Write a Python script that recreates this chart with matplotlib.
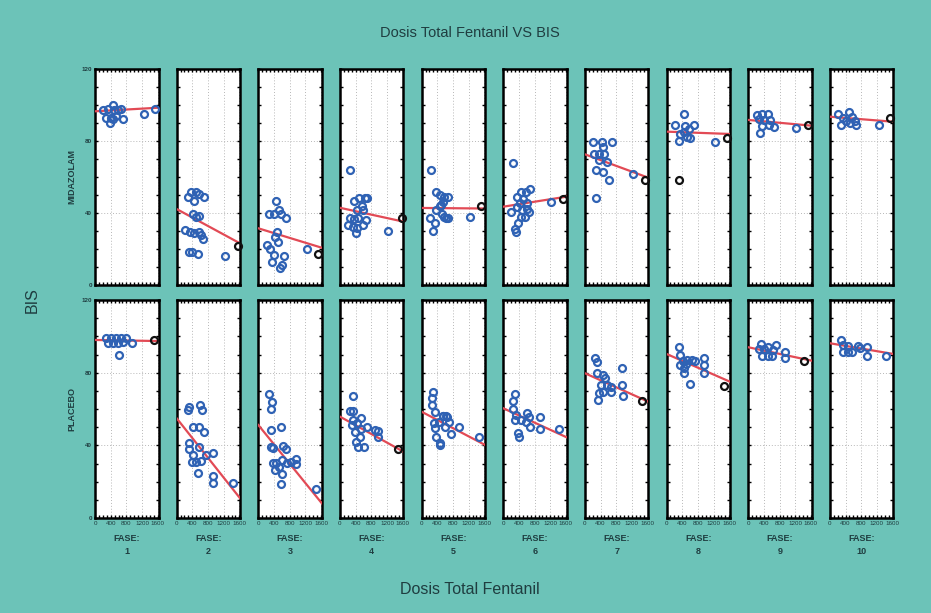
import matplotlib
matplotlib.use("Agg")
import matplotlib.pyplot as plt
import numpy as np

plt.rcParams['font.family'] = ['Liberation Sans', 'DejaVu Sans']

# ---- data ----
fases = ['1', '2', '3', '4', '5', '6', '7', '8', '9', '10']

# MIDAZOLAM: dosis total fentanil (x) vs BIS (y), one list per fase
mid_x = [
    [207, 332, 456, 497, 580, 663, 290, 415, 539, 705, 373, 456, 1243, 1533],
    [281, 366, 494, 579, 706, 451, 408, 494, 579, 221, 340, 451, 562, 621, 664, 306, 391, 536, 1242],
    [463, 278, 396, 530, 589, 699, 480, 421, 505, 210, 295, 396, 337, 648, 615, 564, 1238],
    [255, 357, 494, 638, 698, 553, 425, 596, 255, 357, 468, 664, 213, 340, 443, 579, 408, 1234],
    [246, 356, 475, 584, 541, 457, 373, 525, 203, 627, 330, 287, 668, 500, 584, 668, 1237],
    [238, 339, 465, 574, 675, 506, 422, 354, 607, 187, 490, 607, 658, 465, 549, 380, 296, 321, 1224],
    [198, 430, 688, 232, 370, 490, 456, 370, 559, 284, 456, 627, 284, 1230],
    [438, 228, 481, 691, 565, 337, 438, 607, 312, 523, 1240],
    [217, 359, 498, 274, 398, 565, 359, 523, 664, 299, 1230],
    [210, 337, 489, 574, 405, 506, 632, 295, 675, 1248],
]
mid_y = [
    [97, 98, 100, 97, 97, 98, 93, 93, 94, 92.5, 90, 92, 95, 98],
    [49, 51.4, 51.8, 50.3, 49, 46.6, 39.2, 37.9, 38.3, 30.5, 29.6, 28.7, 29.6, 27.8, 25.5, 18.5, 18.5, 17.2, 16.3],
    [46.6, 39.2, 39.2, 41.6, 39.2, 37.4, 29.6, 26.8, 23.7, 22.2, 20, 16.7, 13, 16.3, 11.1, 9.6, 19.8],
    [63.8, 46.6, 48.5, 48.1, 48.5, 44, 41.6, 41.6, 37, 36.6, 37.4, 36.1, 33.3, 32.4, 31.5, 33.3, 28.7, 30.2],
    [63.9, 51.5, 50, 49, 46.3, 44, 41.7, 39.3, 37, 37, 34.3, 30, 49, 44.4, 38, 37, 38],
    [67.6, 49, 51.9, 51.5, 53.3, 47.8, 45.4, 43.5, 45.4, 40.7, 41.7, 42.2, 40.7, 38, 38, 34.3, 31.1, 29.6, 46.3],
    [79.3, 79.3, 79.3, 72.6, 72.6, 72.6, 76.8, 69.4, 68.2, 63.9, 62.6, 58.3, 48.5, 61.5],
    [94.8, 88.9, 88.5, 88.9, 86.7, 83.7, 84.8, 81.5, 80, 82.4, 79.3],
    [94.4, 94.8, 94.8, 92.2, 91.7, 91.7, 88.5, 88.9, 87.9, 84.3, 87.4],
    [94.8, 93, 96.3, 93.5, 91.1, 89.8, 91.1, 88.9, 88.9, 88.9],
]
# points drawn in black (near the right edge)
mid_dark_x = [[], [1557], [1516], [1574], [1516], [1518], [1522], [1535, 312], [1519], [1535]]
mid_dark_y = [[], [21.8], [17], [37], [44], [47.8], [58.3], [81.9, 58.3], [88.9], [93]]
# linear fit: BIS at dosis 0 and at dosis 1600
mid_fit0 = [96.5, 42.2, 31.5, 42.9, 42.8, 43.5, 72.6, 85.2, 91.7, 93.5]
mid_fit1 = [98.5, 23.1, 20.7, 35.2, 42.5, 49.1, 59.6, 83.9, 88.5, 90.7]

# PLACEBO
pla_x = [
    [291, 415, 540, 664, 789, 332, 457, 581, 706, 938, 606],
    [281, 324, 596, 647, 409, 561, 706, 307, 324, 409, 392, 494, 622, 561, 749, 936, 536, 936, 936, 1428],
    [278, 339, 314, 314, 567, 314, 380, 633, 701, 364, 448, 531, 617, 423, 617, 734, 845, 954, 971, 567, 1460],
    [321, 253, 321, 549, 337, 438, 691, 886, 970, 296, 380, 549, 506, 405, 464, 607, 970],
    [293, 278, 253, 337, 547, 632, 311, 445, 379, 463, 337, 547, 648, 698, 589, 759, 951, 463, 1458],
    [296, 253, 238, 321, 296, 465, 607, 658, 574, 692, 929, 929, 380, 405, 1434],
    [258, 301, 301, 456, 516, 404, 559, 663, 946, 946, 972, 370, 344, 473, 663],
    [312, 337, 422, 523, 650, 734, 961, 354, 438, 506, 455, 961, 944, 590],
    [316, 274, 398, 498, 715, 359, 498, 608, 632, 939, 939],
    [295, 337, 337, 464, 574, 717, 759, 945, 945, 464, 1434],
]
pla_y = [
    [98.9, 98.9, 98.9, 98.9, 98.9, 96.2, 96.2, 96.5, 97, 96.2, 89.7],
    [59.5, 61.3, 62.2, 59.5, 49.9, 49.9, 47.5, 41.1, 37.8, 34.7, 31, 31, 31.5, 39.3, 34.7, 35.9, 24.6, 23.1, 19.4, 19.4],
    [68.3, 64, 59.8, 48.4, 49.9, 39.3, 38.4, 39.6, 37.8, 30.1, 30.4, 27.9, 31.9, 26.4, 24.2, 30.4, 31, 32.3, 29.7, 18.7, 15.8],
    [67.2, 59.1, 59.1, 54.9, 53.9, 52.1, 50.3, 48.4, 47.7, 51.2, 47.5, 48.8, 44.8, 42, 39.3, 38.9, 44.4],
    [69.5, 65.9, 62.2, 58.5, 56.2, 56.2, 52.1, 53, 44.8, 40.2, 49.4, 56.2, 55.4, 53, 50.3, 46.2, 49.9, 41.1, 44.4],
    [68.3, 64.6, 59.8, 56.7, 53.9, 53.9, 57.6, 55.8, 53, 50.3, 55.8, 48.8, 47, 44.8, 48.8],
    [87.9, 86, 80, 78.7, 76.9, 73.2, 73.2, 72.3, 82.4, 73.2, 67.2, 68.6, 65, 69.5, 69.5],
    [94.3, 89.7, 86.6, 87, 87, 86.6, 87.9, 84.2, 82.4, 84.8, 79.7, 84.2, 80, 73.8],
    [95.8, 92.9, 92.9, 94, 95.2, 89.2, 89.2, 89.2, 92.5, 91.5, 87.9],
    [98, 95.2, 91.5, 94.7, 91.5, 94.7, 93.4, 94, 89.2, 91.5, 89.2],
]
pla_dark_x = [[1494], [], [], [1476], [], [], [1462], [1467], [1412], []]
pla_dark_y = [[98], [], [], [37.8], [], [], [64.6], [72.7], [86.6], []]
pla_fit0 = [98, 54.9, 51.2, 55.8, 58.5, 60.4, 79.7, 90.3, 94, 96.2]
pla_fit1 = [97.4, 10.8, 8.1, 36.5, 40.2, 44.4, 64, 75, 86.6, 90.3]

xmax = 1620
bg = '#6cc3b8'
txt = '#1f3d40'
blue = '#2f62b4'
red = '#e24a55'

fig = plt.figure(figsize=(9.31, 6.13), dpi=100, facecolor=bg)

W, H = 931.0, 613.0
left0, pitch, pw = 95, 81.65, 63.5
rows = [(69, 285), (300, 518)]
groups = [
    (mid_x, mid_y, mid_dark_x, mid_dark_y, mid_fit0, mid_fit1, 'MIDAZOLAM'),
    (pla_x, pla_y, pla_dark_x, pla_dark_y, pla_fit0, pla_fit1, 'PLACEBO'),
]

for r, (gx, gy, dx, dy, f0, f1, name) in enumerate(groups):
    top, bot = rows[r]
    for i in range(len(fases)):
        ax = fig.add_axes([(left0 + i * pitch) / W, 1 - bot / H, pw / W, (bot - top) / H])
        ax.set_facecolor('white')
        ax.set_xlim(0, xmax)
        ax.set_ylim(0, 120)
        ax.set_xticks([0, 400, 800, 1200, 1600])
        ax.set_yticks([0, 40, 80, 120])
        ax.set_xticks(np.arange(0, 1601, 100), minor=True)
        ax.set_yticks(np.arange(0, 121, 10), minor=True)
        ax.grid(True, which='major', color='#b8b8b8', ls=(0, (1, 2)), lw=0.7)
        ax.tick_params(which='both', direction='in', top=True, right=True,
                       length=2, width=1, color='black')
        ax.tick_params(axis='both', labelsize=4.5, pad=2, labelcolor=txt)
        for s in ax.spines.values():
            s.set_linewidth(1.8)
            s.set_color('black')
        if i > 0:
            ax.set_yticklabels([])
        else:
            for t in ax.get_yticklabels():
                t.set_fontweight('bold')
            ax.set_ylabel(name, fontsize=6.5, fontweight='bold', color=txt, labelpad=4)
        if r == 0:
            ax.set_xticklabels([])
        else:
            ax.set_xticklabels(['0', '400', '800', '1200', '1600'])
            ax.set_xlabel('FASE:\n' + fases[i], fontsize=6.5, fontweight='bold',
                          color=txt, labelpad=6, linespacing=1.6)

        ax.plot([0, xmax], [f0[i], f1[i]], color=red, lw=1.6, zorder=3)
        ax.plot(gx[i], gy[i], 'o', mfc='none', mec=blue, mew=1.6, ms=5, zorder=4)
        if dx[i]:
            ax.plot(dx[i], dy[i], 'o', mfc='none', mec='#111111', mew=1.6, ms=5,
                    zorder=5, clip_on=False)

fig.text(470 / W, 1 - 33 / H, 'Dosis Total Fentanil VS BIS', ha='center', va='center',
         fontsize=10.5, color=txt)
fig.text(470 / W, 1 - 590 / H, 'Dosis Total Fentanil', ha='center', va='center',
         fontsize=11.5, color=txt)
fig.text(32 / W, 1 - 300 / H, 'BIS', ha='center', va='center', rotation=90,
         fontsize=11.5, color=txt)

fig.savefig('out.png', dpi=100, facecolor=bg)
